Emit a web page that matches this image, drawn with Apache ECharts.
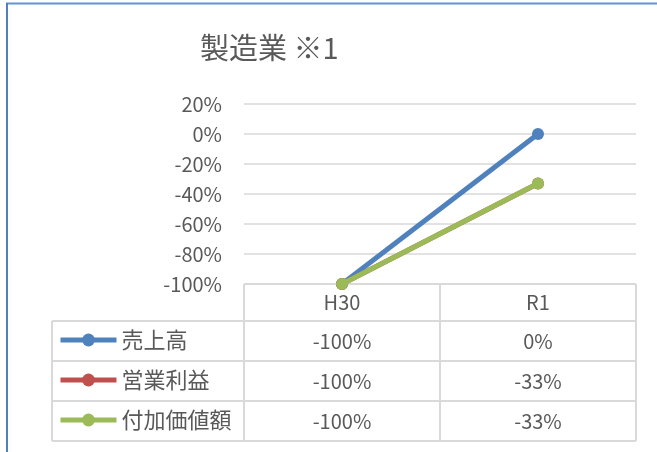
<!DOCTYPE html>
<html><head><meta charset="utf-8">
<script src="https://cdn.jsdelivr.net/npm/echarts@6/dist/echarts.min.js"></script>
<style>html,body{margin:0;padding:0;background:#fff}#c{width:657px;height:452px}</style>
</head><body><div id="c"></div>
<script>
const titleText = '製造業 ※1';
const categories = ['H30', 'R1'];
const seriesNames = ['売上高', '営業利益', '付加価値額'];
const sales = [-100, 0];
const operatingProfit = [-100, -33];
const valueAdded = [-100, -33];
const yTicks = { min: -100, max: 20, interval: 20 };

const seriesData = [sales, operatingProfit, valueAdded];
const colors = ['#4f81bd', '#c0504d', '#9bbb59'];
const FONT = '"Noto Sans CJK JP", "Noto Sans", sans-serif';
const TXT = '#595959';
const LINE = '#d9d9d9';

const chart = echarts.init(document.getElementById('c'), null, { renderer: 'canvas' });
const option = {
  animation: false,
  textStyle: { fontFamily: FONT },
  title: {
    text: titleText, left: 195, top: 28, padding: 5,
    textStyle: { fontSize: 29, fontWeight: 'normal', color: TXT, fontFamily: FONT }
  },
  grid: { left: 244, right: 21, top: 104, bottom: 168, containLabel: false },
  legend: {
    orient: 'vertical', left: 58, top: 329, padding: 0, itemWidth: 56, itemHeight: 16, itemGap: 18,
    selectedMode: false,
    lineStyle: { width: 5 },
    textStyle: { fontSize: 22, color: TXT, fontFamily: FONT, lineHeight: 22 },
    data: seriesNames
  },
  xAxis: {
    type: 'category', data: categories, boundaryGap: true,
    axisLine: { show: false }, axisTick: { show: false },
    axisLabel: { fontSize: 20, color: TXT, margin: 8, fontFamily: FONT }
  },
  yAxis: {
    type: 'value', min: yTicks.min, max: yTicks.max, interval: yTicks.interval,
    axisLine: { show: false }, axisTick: { show: false },
    axisLabel: { formatter: '{value}%', fontSize: 20, color: TXT, margin: 22, fontFamily: FONT },
    splitLine: { lineStyle: { color: LINE, width: 1.5 } }
  },
  series: seriesNames.map((n, i) => ({
    name: n, type: 'line', data: seriesData[i], symbol: 'circle', symbolSize: 12,
    lineStyle: { width: 5, color: colors[i] }, itemStyle: { color: colors[i] },
    z: 2 + i
  }))
};
chart.setOption(option);

// Data table below the plot, positioned from the axes
const yBottom = chart.convertToPixel({ yAxisIndex: 0 }, yTicks.min);
const xc = categories.map((c) => chart.convertToPixel({ xAxisIndex: 0 }, c));
const half = (xc[1] - xc[0]) / 2;
const xL = xc[0] - half, xM = xc[0] + half, xR = xc[1] + half;
const headerH = 37, rowH = 40, legendLeft = 52;
const rowsY = [yBottom + headerH];
for (let i = 0; i < seriesNames.length; i++) rowsY.push(rowsY[i] + rowH);
const tableBottom = rowsY[rowsY.length - 1];
const g = [];
const ln = (x1, y1, x2, y2) => g.push({ type: 'line', silent: true, shape: { x1, y1, x2, y2 }, style: { stroke: LINE, lineWidth: 2 } });
ln(xL, yBottom, xR, yBottom);
rowsY.forEach((y) => ln(legendLeft, y, xR, y));
[xL, xM, xR].forEach((x) => ln(x, yBottom, x, tableBottom));
ln(legendLeft, rowsY[0], legendLeft, tableBottom);
seriesData.forEach((arr, si) => {
  arr.forEach((v, ci) => {
    g.push({ type: 'text', silent: true, x: xc[ci], y: rowsY[si] + rowH / 2,
      style: { text: v + '%', fill: TXT, font: '20px ' + FONT, align: 'center', verticalAlign: 'middle' } });
  });
});
// outer chart-area frame
g.push({ type: 'line', silent: true, shape: { x1: 6, y1: 3.5, x2: 657, y2: 3.5 }, style: { stroke: '#6493d1', lineWidth: 2 } });
g.push({ type: 'line', silent: true, shape: { x1: 7, y1: 3, x2: 7, y2: 452 }, style: { stroke: '#4f81bd', lineWidth: 2 } });
chart.setOption({ graphic: { elements: g } });
</script></body></html>
